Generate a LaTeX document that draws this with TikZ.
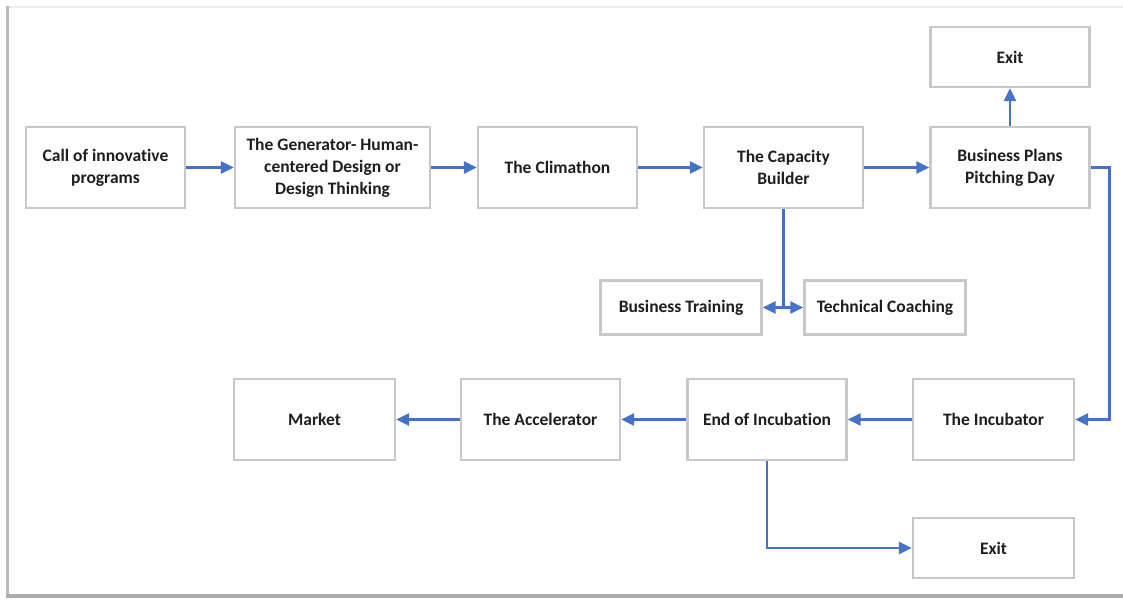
\documentclass[tikz,border=0pt]{standalone}
\usepackage{fontspec}
\usepackage{tikz}
\usepackage{xcolor}
\setmainfont{Carlito}[RawFeature={-liga;-clig;-calt;-dlig}]
\usetikzlibrary{arrows.meta, positioning, calc}
\definecolor{cBox}{RGB}{200,200,200}
\definecolor{cFlow}{RGB}{68,114,196}
\definecolor{cText}{RGB}{30,30,30}
\tikzset{
	stage/.style    ={rectangle, draw=cBox, line width=2.4pt, fill=white, align=center, text=cText, minimum width=159pt, minimum height=81pt, inner sep=2pt},
	smallstage/.style={stage, minimum height=54pt},
	exitbox/.style  ={stage, minimum height=60pt},
	flow/.style     ={-{Triangle[length=13pt, width=12pt]}, draw=cFlow, line width=2.6pt},
	twoway/.style   ={{Triangle[length=13pt, width=12pt]}-{Triangle[length=13pt, width=12pt]}, draw=cFlow, line width=2.6pt},
	plain/.style    ={draw=cFlow, line width=2.6pt},
}

\begin{document}
\begin{tikzpicture}[x=1pt, y=-1pt, font=\fontsize{17.5}{22}\selectfont\bfseries]
	\useasboundingbox (0,0) rectangle (1123,600);
	% page frame with its shadow
	\draw[gray!15, line width=1.5pt] (7,7) -- (1130,7);
	\draw[gray!55, line width=3pt] (7,6) -- (7,596);
	\draw[gray!65, line width=3.5pt] (6,596) -- (1130,596);
	% top row
	\node[stage] (call) at (105.5,167.5) {Call of innovative\\programs};
	\node[stage, minimum width=195pt] (gen) at (332.5,167.5) {The Generator- Human-\\centered Design or\\Design Thinking};
	\node[stage] (clim) at (557.5,167.5) {The Climathon};
	\node[stage] (cap) at (783.5,167.5) {The Capacity\\Builder};
	\node[stage] (pitch) at (1010,167.5) {Business Plans\\Pitching Day};
	\node[exitbox] (exittop) at (1010,57) {Exit};
	% capacity building support
	\node[smallstage, minimum width=161pt] (train) at (681,307.5) {Business Training};
	\node[smallstage, minimum width=161pt] (coach) at (885,307.5) {Technical Coaching};
	% bottom row
	\node[stage, minimum width=161pt] (market) at (314.5,419.5) {Market};
	\node[stage] (accel) at (540.5,419.5) {The Accelerator};
	\node[stage] (endinc) at (767,419.5) {End of Incubation};
	\node[stage, minimum width=161pt] (incub) at (993.5,419.5) {The Incubator};
	\node[exitbox, minimum width=161pt] (exitbot) at (993.5,548) {Exit};
	% connectors
	\draw[flow] (call) -- (gen);
	\draw[flow] (gen) -- (clim);
	\draw[flow] (clim) -- (cap);
	\draw[flow] (cap) -- (pitch);
	\draw[flow] (pitch) -- (exittop);
	\draw[flow] (pitch.east) -- ++(19,0) |- (incub.east);
	\draw[plain] (cap.south) -- (cap.south |- train.east);
	\draw[twoway] (train) -- (coach);
	\draw[flow] (incub) -- (endinc);
	\draw[flow] (endinc) -- (accel);
	\draw[flow] (accel) -- (market);
	\draw[flow] (endinc.south) |- (exitbot.west);
\end{tikzpicture}
\end{document}
